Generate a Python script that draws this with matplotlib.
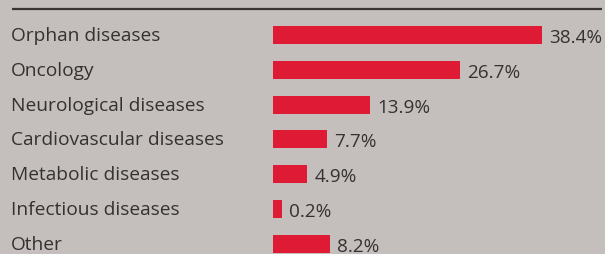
import matplotlib
matplotlib.use("Agg")
import matplotlib.pyplot as plt
from matplotlib.transforms import blended_transform_factory

categories = ["Orphan diseases", "Oncology", "Neurological diseases",
              "Cardiovascular diseases", "Metabolic diseases",
              "Infectious diseases", "Other"]
shares = [38.4, 26.7, 13.9, 7.7, 4.9, 0.2, 8.2]
labels = ["38.4%", "26.7%", "13.9%", "7.7%", "4.9%", "0.2%", "8.2%"]

BG = "#c4bfbc"
RED = "#df1a35"
TXT = "#343131"
MIN_BAR = 1.3  # tiny shares still get a visible stub

plt.rcParams["font.family"] = ["Open Sans", "DejaVu Sans"]

W, H = 605, 255
fig = plt.figure(figsize=(W / 100, H / 100), dpi=100, facecolor=BG)
ax = fig.add_axes([0, 0, 1, 1], facecolor=BG)

px_per = 7.0
x0 = 273
row0, step = 36, 34.8
ax.set_xlim(-x0 / px_per, (W - x0) / px_per)
ax.set_ylim((H - row0) / step, -row0 / step)
ax.axis("off")

ypos = list(range(len(categories)))
widths = [max(v, MIN_BAR) for v in shares]
ax.barh(ypos, widths, height=18 / step, left=0, color=RED)

tr = blended_transform_factory(ax.transAxes, ax.transData)
for y, name, w, lab in zip(ypos, categories, widths, labels):
    ax.text(11 / W, y, name, transform=tr, ha="left", va="center",
            fontsize=13.8, color=TXT)
    ax.text(w + 7 / px_per, y + 0.06, lab, ha="left", va="center",
            fontsize=13.6, color=TXT)

ax.plot([12 / W, 602 / W], [(10 - row0) / step] * 2, transform=tr,
        color="#3a3533", lw=1.6, solid_capstyle="butt")

fig.savefig("out.png", dpi=100, facecolor=BG)
